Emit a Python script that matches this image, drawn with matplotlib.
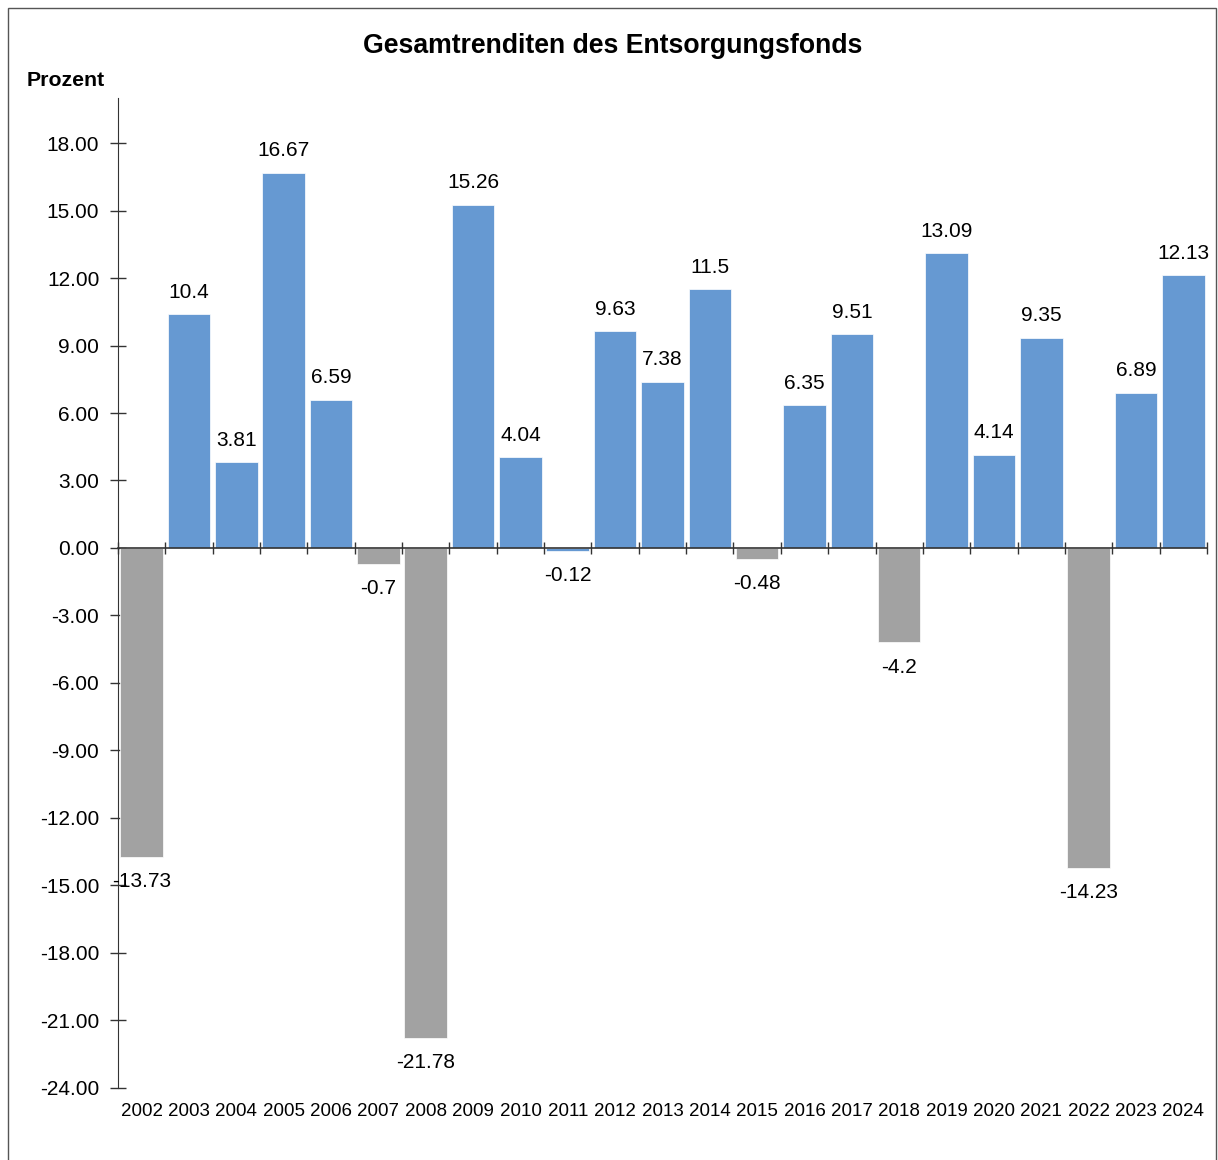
import matplotlib
matplotlib.use("Agg")
import matplotlib.pyplot as plt
from matplotlib.patches import Rectangle
import numpy as np

plt.rcParams['font.family'] = ['Liberation Sans', 'DejaVu Sans']

years = ['2002', '2003', '2004', '2005', '2006', '2007', '2008', '2009', '2010', '2011', '2012', '2013',
         '2014', '2015', '2016', '2017', '2018', '2019', '2020', '2021', '2022', '2023', '2024']
returns = [-13.73, 10.4, 3.81, 16.67, 6.59, -0.7, -21.78, 15.26, 4.04, -0.12, 9.63, 7.38,
           11.5, -0.48, 6.35, 9.51, -4.2, 13.09, 4.14, 9.35, -14.23, 6.89, 12.13]
labels = ['-13.73', '10.4', '3.81', '16.67', '6.59', '-0.7', '-21.78', '15.26', '4.04', '-0.12', '9.63', '7.38',
          '11.5', '-0.48', '6.35', '9.51', '-4.2', '13.09', '4.14', '9.35', '-14.23', '6.89', '12.13']
# grey bars in the original (2011 is drawn blue there)
grey_years = ['2002', '2007', '2008', '2015', '2018', '2022']

blue = '#6699D2'
grey = '#A2A2A2'

fig = plt.figure(figsize=(12.18, 11.6), dpi=100)
ax = fig.add_axes([0.0969, 0.0621, 0.894, 0.8534])

x = np.arange(len(years))
cols = [grey if y in grey_years else blue for y in years]
ax.bar(x, returns, width=0.9, color=cols, edgecolor='white', linewidth=0.5, zorder=2)

for xi, v, lab in zip(x, returns, labels):
    if v >= 0:
        ax.annotate(lab, (xi, v), xytext=(0, 9), textcoords='offset points',
                    ha='center', va='bottom', fontsize=15)
    else:
        ax.annotate(lab, (xi, v), xytext=(0, -11), textcoords='offset points',
                    ha='center', va='top', fontsize=15)

ax.set_xlim(-0.5, len(years) - 0.5)
ax.set_ylim(-24, 20)
ax.set_yticks(np.arange(-24, 19, 3))
ax.set_yticklabels([f'{t:.2f}' for t in np.arange(-24, 19, 3)], fontsize=15)
ax.tick_params(axis='y', direction='inout', length=11, width=1, pad=8, color='#333333')

for s in ['top', 'right']:
    ax.spines[s].set_visible(False)
ax.spines['left'].set_color('#333333')
ax.spines['bottom'].set_position(('data', 0))
ax.spines['bottom'].set_color('#333333')
ax.spines['bottom'].set_linewidth(1.2)
ax.set_xticks(np.arange(-0.5, len(years), 1))
ax.tick_params(axis='x', direction='inout', length=9, width=1, labelbottom=False, color='#333333')

sec = ax.secondary_xaxis(0)
sec.set_xticks(x)
sec.set_xticklabels(years, fontsize=13.5)
sec.tick_params(length=0, pad=11)
sec.spines['bottom'].set_visible(False)

fig.text(0.503, 0.9605, 'Gesamtrenditen des Entsorgungsfonds', ha='center', va='center',
         fontsize=19.2, fontweight='bold')
fig.text(0.022, 0.9305, 'Prozent', ha='left', va='center', fontsize=15.3, fontweight='bold')

fig.patches.append(Rectangle((8 / 1218, -0.05), 1208 / 1218, 1.05 - 8 / 1160, transform=fig.transFigure,
                             fill=False, edgecolor='#555555', linewidth=1))

fig.savefig('out.png', dpi=100)
